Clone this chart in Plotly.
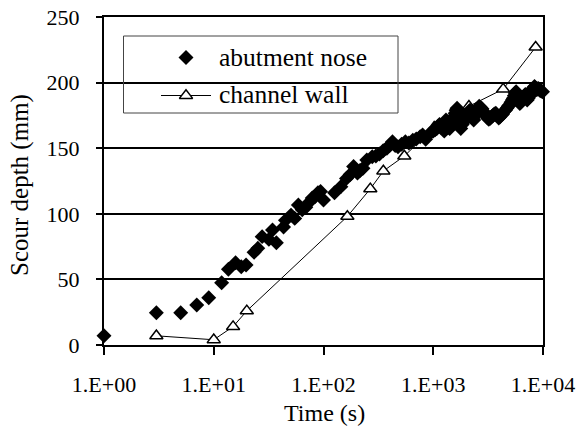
import plotly.graph_objects as go

# Scour depth development at the abutment nose (dense logger record)
nose_time = [1, 3, 5, 7, 9, 11.8, 13.6, 15.8, 17.8, 19.7, 23.3, 25.2, 27.6, 31.8,
             34.3, 37.2, 43.3, 45, 50.6, 54.7, 59, 64, 69, 74.5, 79, 83.6, 89, 94,
             100, 126, 144, 162, 175, 188, 204, 215, 229, 248, 278, 300, 324, 350,
             378, 400, 425, 450, 477, 515, 557, 600, 651, 700, 760, 800, 853, 924,
             1000, 1040, 1077, 1110, 1140, 1175, 1208, 1235, 1260, 1285, 1306, 1335,
             1360, 1385, 1412, 1455, 1500, 1540, 1585, 1615, 1648, 1680, 1710, 1745,
             1782, 1835, 1890, 1945, 2000, 2040, 2080, 2120, 2162, 2205, 2250, 2290,
             2337, 2410, 2480, 2550, 2623, 2700, 2780, 2860, 2943, 3030, 3120, 3210,
             3311, 3400, 3500, 3600, 3715, 3830, 3950, 4060, 4170, 4290, 4420, 4550,
             4690, 4820, 4960, 5110, 5260, 5370, 5480, 5580, 5690, 5800, 5920, 6030,
             6150, 6270, 6400, 6520, 6640, 6770, 6900, 7040, 7180, 7320, 7460, 7610,
             7760, 7910, 8060, 8210, 8370, 8530, 8700, 8870, 9040, 9220, 9400, 9650,
             9900]
nose_depth = [7, 24.6, 24.6, 30.5, 36, 47.5, 57.7, 62.7, 59.7, 61, 70.6, 73.7, 82.6,
              80.5, 87.7, 78, 90, 95, 99, 96.5, 106.7, 103, 105, 109, 112, 113, 116,
              117, 110.5, 116, 120.7, 127, 130, 136, 131, 133, 134.7, 141, 143.5, 144,
              145.6, 148, 150, 152, 155, 152, 151, 153, 155, 154, 156, 157, 158.8, 160,
              156.8, 161,
              163, 164, 165, 167, 168, 166, 167.7, 165, 163, 168, 171.5, 170,
              168, 166, 165, 168, 170, 174, 176.6, 179, 180.4, 178, 176, 170,
              165, 168, 170, 172, 174, 176, 177, 178, 179, 177, 175, 173,
              171.5, 175, 178, 180, 182, 181, 180, 178, 176.6, 175, 173, 172,
              172.8, 174, 175, 176, 176.6, 175, 173, 174, 175.3, 176, 178, 179,
              180.4, 182, 183, 185, 186.7, 188, 190, 192, 193, 190, 188, 186,
              184, 185, 186, 188, 189, 190, 191, 189, 186.7, 188, 190, 192,
              194, 193, 192, 194, 197, 196, 195, 195, 195.6, 195, 194, 193.5,
              193]

# Scour depth measured along the channel wall
wall_time = [3, 10, 15, 20, 165, 267, 351, 545, 1020, 2115, 4335, 8570]
wall_depth = [7, 4, 14, 26, 98, 119, 132.6, 144, 166, 182, 195, 227]

x_tickvals = [1, 10, 100, 1000, 10000]
x_ticktext = ["1.E+00", "1.E+01", "1.E+02", "1.E+03", "1.E+04"]
legend_names = ["abutment nose", "channel wall"]

FONT = "Liberation Serif, Tinos, Times New Roman, Times, serif"
W, H = 578, 430
PL, PR, PT, PB = 104, 543, 17, 345


def pxx(x):
    return (x - PL) / (PR - PL)


def pxy(y):
    return (PB - y) / (PB - PT)


diamond = dict(symbol="diamond", size=11.5, color="black", line=dict(width=0))
triangle = dict(symbol="triangle-up", size=11.5, color="white",
                line=dict(color="black", width=1.5))

fig = go.Figure()
fig.add_trace(go.Scatter(x=wall_time, y=wall_depth, mode="lines+markers",
                         line=dict(color="black", width=1), marker=triangle,
                         cliponaxis=False, showlegend=False))
fig.add_trace(go.Scatter(x=nose_time, y=nose_depth, mode="markers",
                         marker=diamond, cliponaxis=False, showlegend=False))

# Legend keys on an overlay axis measured in page pixels
fig.add_trace(go.Scatter(x=[186], y=[57.5], mode="markers", marker=diamond,
                         xaxis="x2", yaxis="y2", cliponaxis=False, showlegend=False,
                         hoverinfo="skip"))
fig.add_trace(go.Scatter(x=[161, 211], y=[95.5, 95.5], mode="lines",
                         line=dict(color="black", width=1),
                         xaxis="x2", yaxis="y2", cliponaxis=False, showlegend=False,
                         hoverinfo="skip"))
fig.add_trace(go.Scatter(x=[186], y=[95.5], mode="markers", marker=triangle,
                         xaxis="x2", yaxis="y2", cliponaxis=False, showlegend=False,
                         hoverinfo="skip"))

fig.update_layout(
    width=W, height=H,
    margin=dict(l=PL, r=W - PR, t=PT, b=H - PB, pad=0),
    paper_bgcolor="white", plot_bgcolor="white",
    font=dict(family=FONT, size=22, color="black"),
    xaxis=dict(type="log", range=[0, 4], tickvals=x_tickvals, ticktext=x_ticktext,
               showgrid=False, showline=True, linecolor="black", linewidth=2,
               mirror=True, ticks="outside", ticklen=8, tickwidth=2,
               tickcolor="black", ticklabelstandoff=11, automargin=False,
               tickfont=dict(family=FONT, size=22)),
    yaxis=dict(range=[0, 250], dtick=50, showgrid=True, gridcolor="black",
               gridwidth=1.5, zeroline=False, showline=True, linecolor="black",
               linewidth=2, mirror=True, ticks="outside", ticklen=6, tickwidth=2,
               tickcolor="black", ticklabelstandoff=12, automargin=False,
               tickfont=dict(family=FONT, size=22)),
    xaxis2=dict(overlaying="x", range=[PL, PR], visible=False, anchor="y2"),
    yaxis2=dict(overlaying="y", range=[PB, PT], visible=False, anchor="x2"),
    showlegend=False,
    shapes=[dict(type="rect", xref="paper", yref="paper",
                 x0=pxx(123.5), x1=pxx(398), y0=pxy(36), y1=pxy(113),
                 line=dict(color="#444444", width=1), fillcolor="rgba(0,0,0,0)",
                 layer="above")],
    annotations=[
        dict(text=legend_names[0], xref="paper", yref="paper", x=pxx(217), y=pxy(57),
             xanchor="left", yanchor="middle", showarrow=False,
             font=dict(family=FONT, size=25.5)),
        dict(text=legend_names[1], xref="paper", yref="paper", x=pxx(217), y=pxy(94),
             xanchor="left", yanchor="middle", showarrow=False,
             font=dict(family=FONT, size=25.5)),
        dict(text="Time (s)", xref="paper", yref="paper", x=pxx(324), y=pxy(413),
             xanchor="center", yanchor="middle", showarrow=False,
             font=dict(family=FONT, size=24)),
        dict(text="Scour depth (mm)", xref="paper", yref="paper", x=pxx(20),
             y=pxy(185), xanchor="center", yanchor="middle", textangle=-90,
             showarrow=False, font=dict(family=FONT, size=25)),
    ],
)

fig.write_html("out.html")
